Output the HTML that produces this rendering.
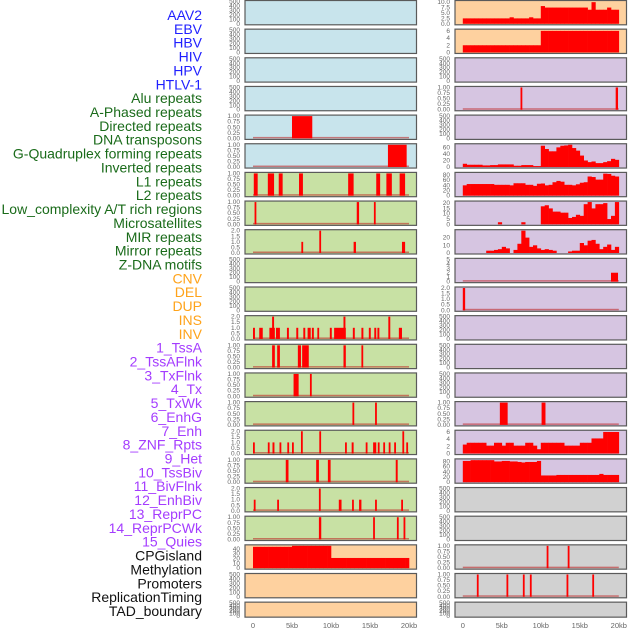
<!DOCTYPE html>
<html><head><meta charset="utf-8"><style>
html,body{margin:0;padding:0;background:#fff;}
svg{display:block;font-family:"Liberation Sans",sans-serif;}
</style></head><body>
<svg id="chart" width="630" height="630" viewBox="0 0 630 630" xmlns="http://www.w3.org/2000/svg"></svg>
<script>
// ---- data ----
const trackLabels = ["AAV2","EBV","HBV","HIV","HPV","HTLV-1","Alu repeats","A-Phased repeats","Directed repeats","DNA transposons","G-Quadruplex forming repeats","Inverted repeats","L1 repeats","L2 repeats","Low_complexity A/T rich regions","Microsatellites","MIR repeats","Mirror repeats","Z-DNA motifs","CNV","DEL","DUP","INS","INV","1_TssA","2_TssAFlnk","3_TxFlnk","4_Tx","5_TxWk","6_EnhG","7_Enh","8_ZNF_Rpts","9_Het","10_TssBiv","11_BivFlnk","12_EnhBiv","13_ReprPC","14_ReprPCWk","15_Quies","CPGisland","Methylation","Promoters","ReplicationTiming","TAD_boundary"];
const labelColors = {virus:"#1f1fff",repeat:"#1a6b1a",sv:"#ffa31a",chrom:"#a43cff",other:"#111"};
const labelGroups = ["virus","virus","virus","virus","virus","virus","repeat","repeat","repeat","repeat","repeat","repeat","repeat","repeat","repeat","repeat","repeat","repeat","repeat","sv","sv","sv","sv","sv","chrom","chrom","chrom","chrom","chrom","chrom","chrom","chrom","chrom","chrom","chrom","chrom","chrom","chrom","chrom","other","other","other","other","other"];
const xTicks = [0,5,10,15,20];
const xTickLabels = ["0","5kb","10kb","15kb","20kb"];

const ticksEmpty = ["0","100","200","300","400","500"];
const ticksOne = ["0.00","0.25","0.50","0.75","1.00"];
const ticksTwo = ["0.0","0.5","1.0","1.5","2.0"];

// area series (40 bins of 0.5 kb)
const r1Values = [2.5,2.5,2.5,2.5,2.5,2.5,2.5,2.5,2.5,2.5,2.5,2.5,3,2.5,2.5,2.5,2.5,3,2.5,2.5, 8.2,7.5,7.5,7.5,7.5,7.5,7.5,7.5,7.5,7.5,7.5,7.5,6.5,10,6.5,6.5,6.5,7.5,6.5,6.5];
const r2Values = [2,2,2,2,2,2,2,2,2,2,2,2,2,2,2,2,2,2,2,2, 6,6,6,6,6,6,6,6,6,6,6,6,6,6,6,6,6,6,6,6];
const r6Values = [10,7,7,7,7,5,5,6,6,8,8,8,8,4,4,6,6,6,3,3, 65,55,48,48,60,65,66,68,58,50,35,20,15,17,12,12,15,18,25,22];
const r7Values = [40,45,45,45,45,45,45,45,42,42,42,42,40,48,48,48,42,42,38,46, 47,40,42,52,57,54,42,42,40,44,50,52,74,72,62,62,85,84,77,74];
const r8Values = [0,0,0,0,0,0,0,0,0,2,0,0,0,0,0,2,0,0,0,0, 17,18,15,12,12,11,11,6,7,9,8,19,21,15,19,19,20,5,8,21];
const r9Values = [0,0,0,0,0,0,3,3,4,5, 8,6,0,4,12,29,20,8,10,6, 4,5,4,3,0,0,0,2,3,3, 13,10,16,17,12,5,8,11,4,8];
const r16Values = [2.5,3,3,3,3,3,2.2,2.2,3,3,2.2,3,3,2.2,2.2,2.2,3,3,2.2,1.2, 3,3,3,3,3,3,2.2,2.2,2.2,2.2,3,3,3,4.2,4.2,4.2,6,6,6,6];
const r17Values = [82,82,85,85,85,85,85,85,80,80,82,82,80,80,78,76,78,78,78,82, 26,26,26,26,28,28,28,28,28,28,28,28,28,28,28,32,28,28,28,28];
const cpgValues = [44,44,44,44,44,44,44,44,44,44,46,46,46,46,46,46,46,46,46,46, 21,21,21,21,21,21,21,21,21,21,21,21,21,21,21,21,21,21,21,21];

// spikes: [start kb, end kb, height]
const aPhasedSpikes = [[7.4,7.6,1],[19.6,19.9,1]];
const directedSpikes = [[5.0,7.6,1]];
const gquadSpikes = [[17.3,19.7,1]];
const l1Spikes = [[0.1,0.6,1],[1.9,2.7,1],[3.3,3.8,1],[5.9,6.4,1],[12.2,12.9,1],[15.8,16.3,1],[17.1,17.8,1],[18.8,19.5,1]];
const lowCompSpikes = [[0.2,0.4,1],[13.3,13.6,1],[15.5,15.7,1]];
const mirSpikes = [[6.2,6.4,1],[8.5,8.7,2],[12.9,13.2,1],[19.1,19.5,1]];
const zdnaSpikes = [[19.0,19.9,2]];
const delSpikes = [[0,0.3,2]];
const insSpikes = [[0,0.25,1],[0.8,1.25,1],[2.1,2.8,1],[2.45,2.7,2],[2.95,3.45,1],[4.35,4.6,1],[5.55,5.8,1],[6.45,6.7,1],[7.0,7.4,1],[7.55,7.8,1],[8.25,8.45,1],[9.85,10.1,1],[10.4,11.9,1],[11.6,11.85,2],[12.8,13.05,1],[13.9,14.15,1],[14.85,15.1,1],[15.55,15.8,1],[15.95,16.2,1],[17.35,17.6,2],[18.7,19.1,1]];
const invSpikes = [[2.45,2.8,1],[3.1,3.45,1],[5.75,6.15,1],[6.3,7.15,1],[11.6,11.9,1],[13.9,14.1,1]];
const tssAFlnkSpikes = [[5.2,5.85,1],[7.3,7.5,1]];
const txFlnkSpikes = [[12.75,12.95,1],[15.65,15.85,1]];
const txWkSpikes = [[4.75,5.75,1],[10.1,10.6,1]];
const tx4Spikes = [[0,0.2,1],[1.9,2.1,1],[2.5,2.75,1],[3.4,3.6,1],[4.4,4.6,1],[5.0,5.2,1],[6.15,6.35,2],[8.5,8.7,2],[11.8,12.0,1],[12.65,12.9,1],[14.45,14.65,1],[15.4,15.8,1],[16.0,16.2,1],[16.7,16.9,1],[17.4,17.6,1],[18.1,18.3,1],[19.15,19.35,2],[19.65,19.85,1]];
const enhGSpikes = [[4.2,4.55,1],[8.1,8.45,1],[9.6,9.95,1],[18.3,18.55,1]];
const znfSpikes = [[0.1,0.3,1],[3.1,3.3,1],[8.45,8.65,2],[11.0,11.35,1],[12.7,12.9,1],[13.6,13.9,1],[15.65,15.85,1],[19.0,19.2,1]];
const bivFlnkSpikes = [[8.45,8.75,1],[15.4,15.6,1],[18.45,18.65,1],[19.3,19.5,1]];
const methylSpikes = [[10.75,10.95,1],[13.45,13.65,1]];
const replSpikes = [[1.8,2.0,1],[5.6,5.8,1],[7.7,7.9,1],[8.6,8.8,1],[13.3,13.5,1],[16.6,16.8,1]];

const BLUE="#c8e4ec", GREEN="#c8e1a4", PURPLE="#d6c5e1", ORANGE="#fed19f", GREY="#d1d1d1";

const panels = [
 {n:"aav2-left",c:0,r:0,f:BLUE,t:ticksEmpty,m:500},
 {n:"aav2-right",c:1,r:0,f:ORANGE,t:["0.0","2.5","5.0","7.5","10.0"],m:10.3,tm:10,a:r1Values},
 {n:"ebv-left",c:0,r:1,f:BLUE,t:ticksEmpty,m:500},
 {n:"ebv-right",c:1,r:1,f:ORANGE,t:["0","2","4","6"],m:6.2,tm:6,a:r2Values},
 {n:"hbv-left",c:0,r:2,f:BLUE,t:ticksEmpty,m:500},
 {n:"hbv-right",c:1,r:2,f:PURPLE,t:ticksEmpty,m:500},
 {n:"hiv-left",c:0,r:3,f:BLUE,t:ticksEmpty,m:500},
 {n:"hiv-right",c:1,r:3,f:PURPLE,t:ticksOne,m:1,s:aPhasedSpikes},
 {n:"directed-left",c:0,r:4,f:BLUE,t:ticksOne,m:1,s:directedSpikes},
 {n:"directed-right",c:1,r:4,f:PURPLE,t:ticksEmpty,m:500},
 {n:"gquad-left",c:0,r:5,f:BLUE,t:ticksOne,m:1,s:gquadSpikes},
 {n:"gquad-right",c:1,r:5,f:PURPLE,t:["0","20","40","60"],m:68,tm:60,a:r6Values},
 {n:"l1-left",c:0,r:6,f:GREEN,t:ticksOne,m:1,s:l1Spikes},
 {n:"l1-right",c:1,r:6,f:PURPLE,t:["0","20","40","60","80"],m:86,tm:80,a:r7Values},
 {n:"lowcomp-left",c:0,r:7,f:GREEN,t:ticksOne,m:1,s:lowCompSpikes},
 {n:"lowcomp-right",c:1,r:7,f:PURPLE,t:["0","5","10","15","20"],m:21,tm:20,a:r8Values},
 {n:"mir-left",c:0,r:8,f:GREEN,t:ticksTwo,m:2,s:mirSpikes},
 {n:"mir-right",c:1,r:8,f:PURPLE,t:["0","10","20"],m:29,tm:20,a:r9Values},
 {n:"zdna-left",c:0,r:9,f:GREEN,t:ticksEmpty,m:500},
 {n:"zdna-right",c:1,r:9,f:PURPLE,t:["0","1","2","3","4","5"],m:5,s:zdnaSpikes},
 {n:"del-left",c:0,r:10,f:GREEN,t:ticksEmpty,m:500},
 {n:"del-right",c:1,r:10,f:PURPLE,t:ticksTwo,m:2,s:delSpikes},
 {n:"ins-left",c:0,r:11,f:GREEN,t:ticksTwo,m:2,s:insSpikes},
 {n:"ins-right",c:1,r:11,f:PURPLE,t:ticksEmpty,m:500},
 {n:"inv-left",c:0,r:12,f:GREEN,t:ticksOne,m:1,s:invSpikes},
 {n:"inv-right",c:1,r:12,f:PURPLE,t:ticksEmpty,m:500},
 {n:"tssaflnk-left",c:0,r:13,f:GREEN,t:ticksOne,m:1,s:tssAFlnkSpikes},
 {n:"tssaflnk-right",c:1,r:13,f:PURPLE,t:ticksEmpty,m:500},
 {n:"txflnk-left",c:0,r:14,f:GREEN,t:ticksOne,m:1,s:txFlnkSpikes},
 {n:"txwk-right",c:1,r:14,f:PURPLE,t:ticksOne,m:1,s:txWkSpikes},
 {n:"tx-left",c:0,r:15,f:GREEN,t:ticksTwo,m:2,s:tx4Spikes},
 {n:"tx-right",c:1,r:15,f:PURPLE,t:["0","2","4","6"],m:6.2,tm:6,a:r16Values},
 {n:"enhg-left",c:0,r:16,f:GREEN,t:ticksOne,m:1,s:enhGSpikes},
 {n:"enhg-right",c:1,r:16,f:PURPLE,t:["0","20","40","60","80"],m:86,tm:80,a:r17Values},
 {n:"znf-left",c:0,r:17,f:GREEN,t:ticksTwo,m:2,s:znfSpikes},
 {n:"znf-right",c:1,r:17,f:GREY,t:ticksEmpty,m:500},
 {n:"bivflnk-left",c:0,r:18,f:GREEN,t:ticksOne,m:1,s:bivFlnkSpikes},
 {n:"bivflnk-right",c:1,r:18,f:GREY,t:ticksEmpty,m:500},
 {n:"cpg-left",c:0,r:19,f:ORANGE,t:["0","10","20","30","40"],m:46,tm:40,a:cpgValues},
 {n:"methylation-right",c:1,r:19,f:GREY,t:ticksOne,m:1,s:methylSpikes},
 {n:"promoters-left",c:0,r:20,f:ORANGE,t:ticksEmpty,m:500},
 {n:"replication-right",c:1,r:20,f:GREY,t:ticksOne,m:1,s:replSpikes},
 {n:"tad-left",c:0,r:21,f:ORANGE,t:ticksEmpty,m:500},
 {n:"tad-right",c:1,r:21,f:GREY,t:ticksEmpty,m:500}
];

// ---- drawing ----
const NS="http://www.w3.org/2000/svg";
const svg=document.getElementById("chart");
function mk(tag,attrs,parent){const e=document.createElementNS(NS,tag);for(const k in attrs)e.setAttribute(k,attrs[k]);(parent||svg).appendChild(e);return e;}
const colFrame=[[245,416.5],[455,626.5]];
const colZero=[253,462.8];
const KB=7.8;
function xScale(col,kb){return colZero[col]+kb*KB;}
function rowTop(r){return 0.5+28.65*r;}
function rowH(r){return r===21?15:24.3;}

trackLabels.forEach((lab,i)=>{
  const t=mk("text",{x:202,y:(15+13.86*i+5).toFixed(1),"text-anchor":"end","font-size":"14",fill:labelColors[labelGroups[i]]});
  t.textContent=lab;
  
  
});

panels.forEach(p=>{
  const g=mk("g",{});
  
  
  const x0=colFrame[p.c][0],x1=colFrame[p.c][1];
  const y0=rowTop(p.r),h=rowH(p.r);
  const yb=y0+h-1, yt=y0+1;
  const yS=v=>yb-(v/p.m)*(yb-yt);
  const bg=mk("rect",{x:x0,y:y0,width:x1-x0,height:h,fill:p.f},g);
  
  
  if(p.a){
    p.a.forEach((v,i)=>{
      const xa=xScale(p.c,i*0.5),xb=xScale(p.c,(i+1)*0.5);
      const r=mk("rect",{x:xa.toFixed(2),y:yS(v).toFixed(2),width:(xb-xa+0.3).toFixed(2),height:(yb-yS(v)).toFixed(2),fill:"#ff0000"},g);
      
      
    });
  }
  if(p.s){
    const bl=mk("rect",{x:xScale(p.c,0),y:yb-1.5,width:20*KB,height:1.5,fill:"rgba(190,30,30,0.55)"},g);
    
    
    p.s.forEach(s=>{
      const xa=xScale(p.c,s[0]);const w=Math.max((s[1]-s[0])*KB,1.8);
      const r=mk("rect",{x:xa.toFixed(2),y:yS(s[2]).toFixed(2),width:w.toFixed(2),height:(yb-yS(s[2])).toFixed(2),fill:"#ff0000"},g);
      
      
    });
  }
  const fr=mk("rect",{x:x0,y:y0,width:x1-x0,height:h,fill:"none",stroke:"#5a5a5a","stroke-width":"1.2"},g);
  
  
  const n=p.t.length;
  const topVal=p.tm!==undefined?p.tm:p.m;
  p.t.forEach((lab,i)=>{
    const v=(i/(n-1))*topVal;
    const ty=yS(v)+2;
    const t=mk("text",{x:x0-5,y:ty.toFixed(1),"text-anchor":"end","font-size":"6.5",fill:"#666"},g);
    t.textContent=lab;
    
    
  });
});

[0,1].forEach(c=>{
  xTicks.forEach((k,i)=>{
    const t=mk("text",{x:xScale(c,k).toFixed(1),y:628,"text-anchor":"middle","font-size":"7.5",fill:"#666"});
    t.textContent=xTickLabels[i];
    
    
  });
});
</script>
</body></html>
